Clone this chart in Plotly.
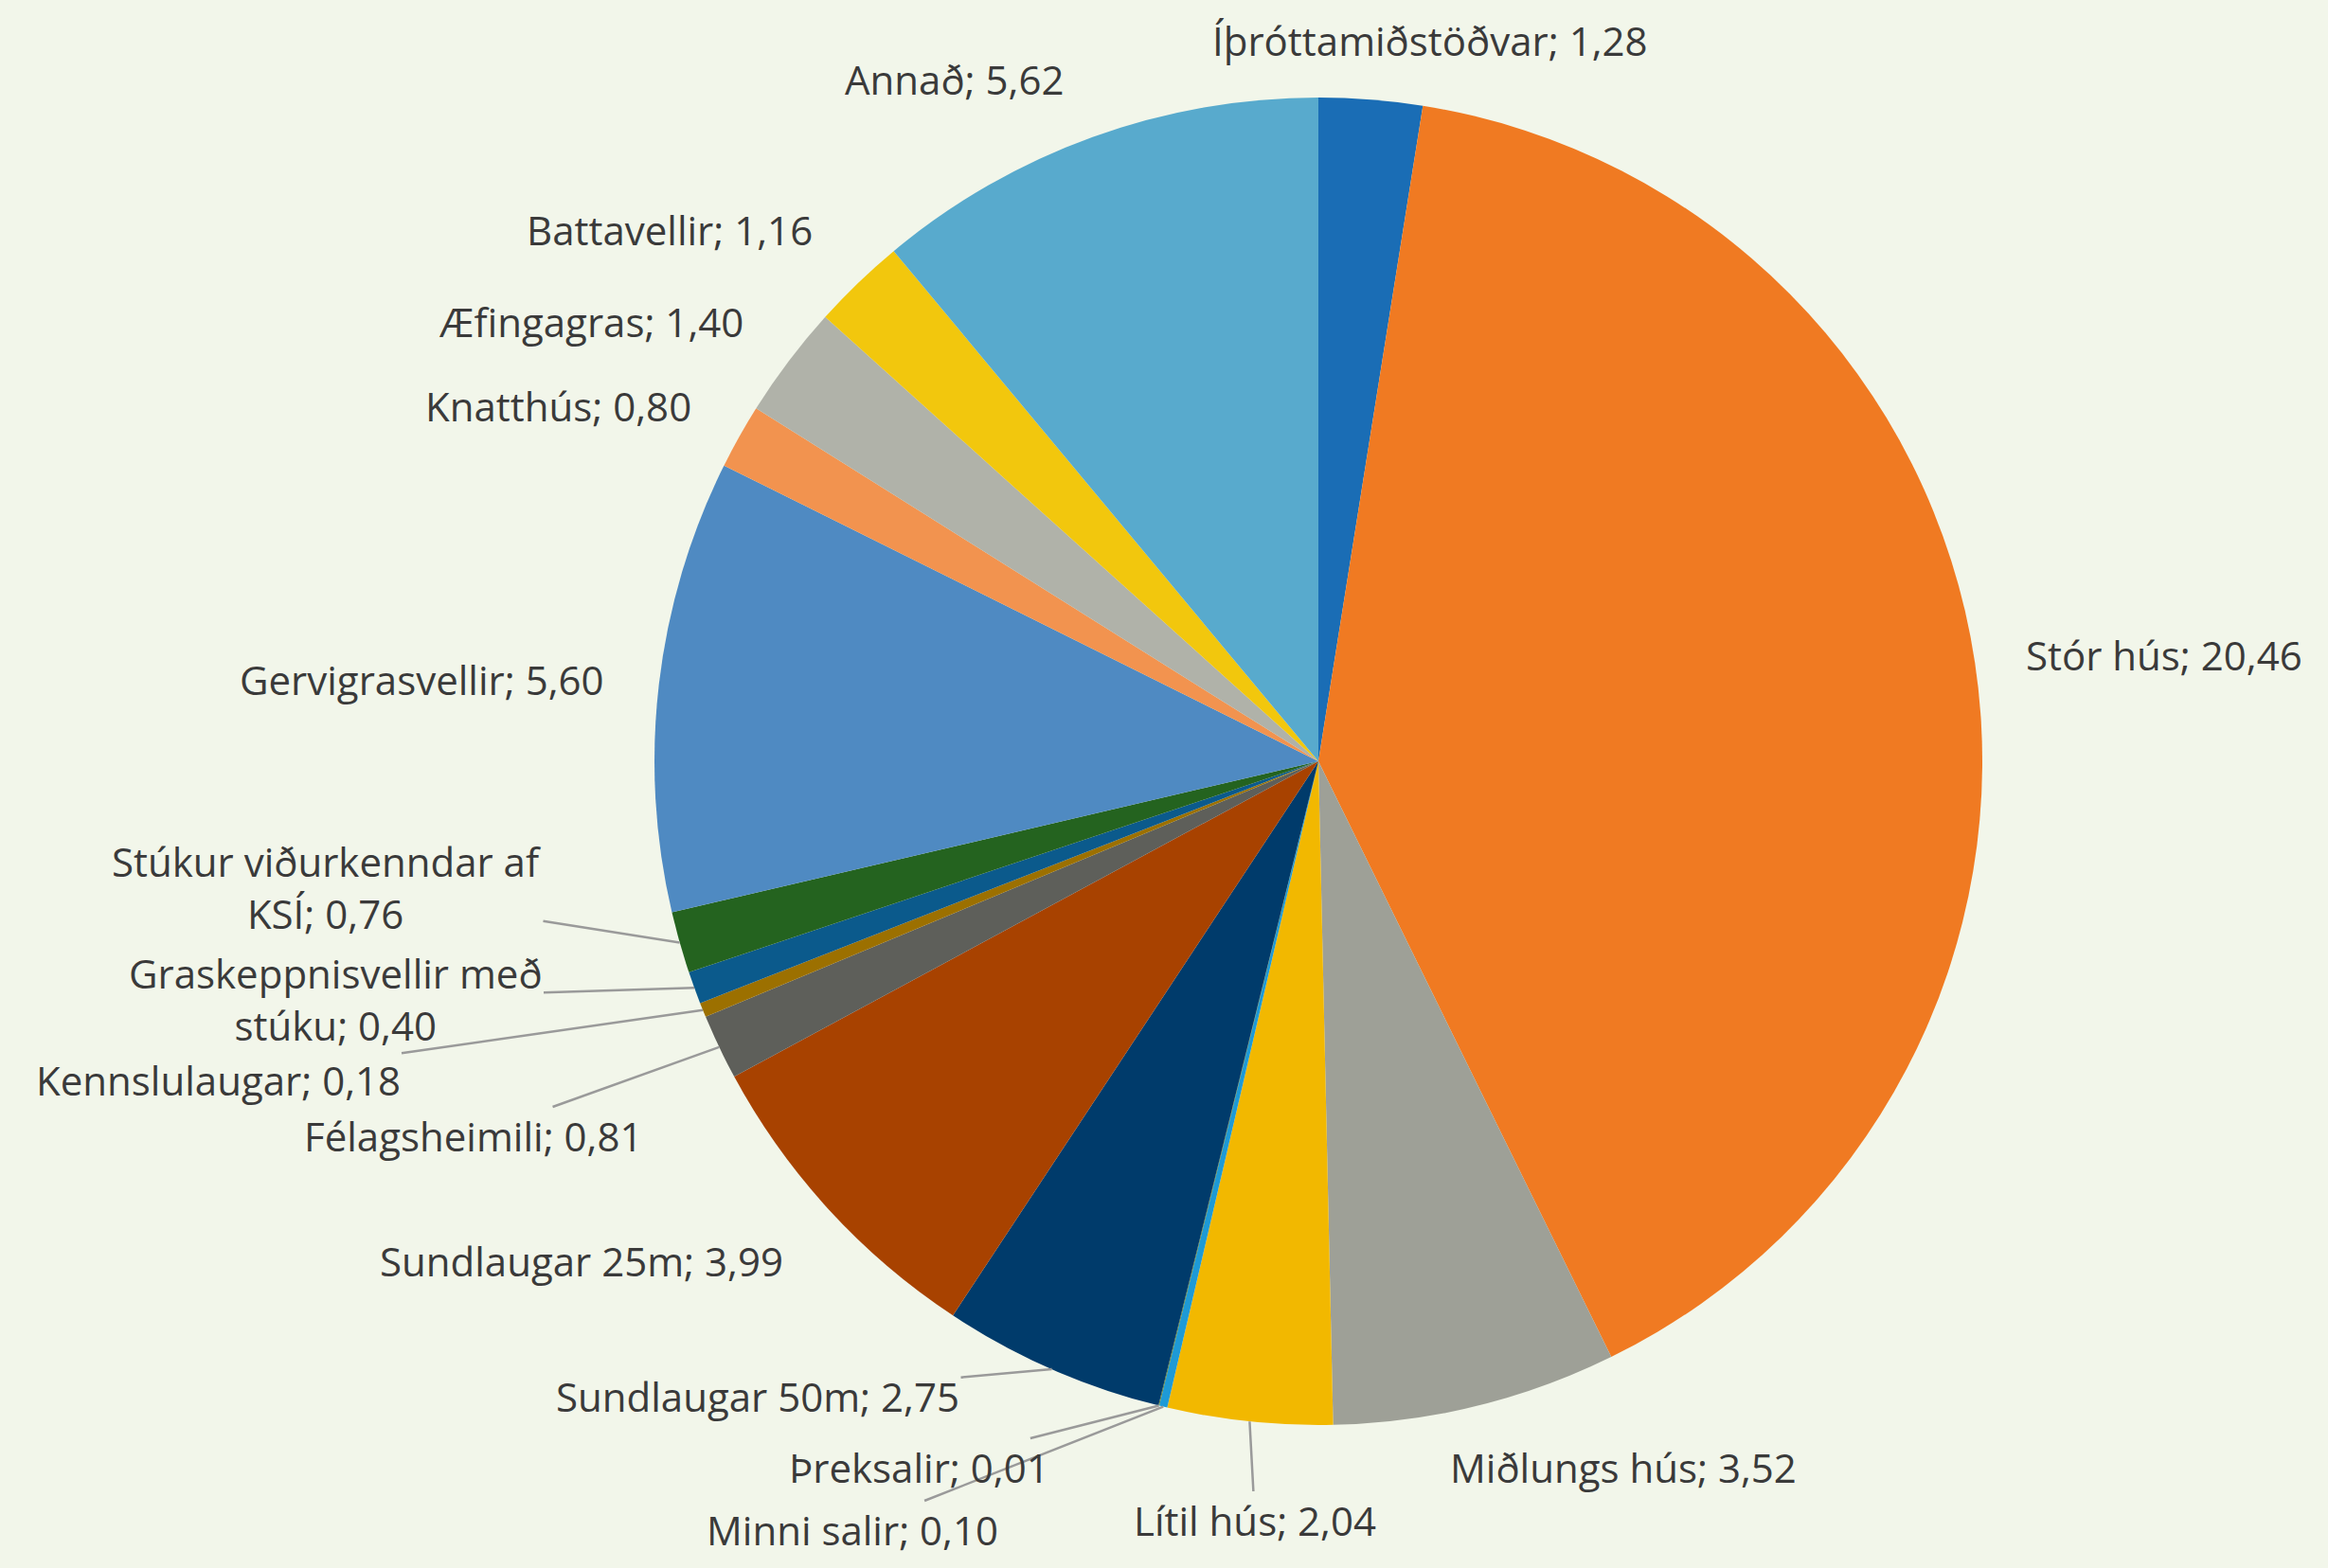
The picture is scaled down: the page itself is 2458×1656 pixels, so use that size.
import math
import plotly.graph_objects as go

# ---------------- data ----------------
CATEGORIES = [
    "Íþróttamiðstöðvar", "Stór hús", "Miðlungs hús", "Lítil hús", "Minni salir",
    "Þreksalir", "Sundlaugar 50m", "Sundlaugar 25m", "Félagsheimili", "Kennslulaugar",
    "Graskeppnisvellir með stúku", "Stúkur viðurkenndar af KSÍ", "Gervigrasvellir",
    "Knatthús", "Æfingagras", "Battavellir", "Annað",
]
VALUES = [1.28, 20.46, 3.52, 2.04, 0.10, 0.01, 2.75, 3.99, 0.81, 0.18, 0.40, 0.76,
          5.60, 0.80, 1.40, 1.16, 5.62]
# label text as displayed (line breaks where the original wraps)
DISPLAY_NAMES = [
    "Íþróttamiðstöðvar", "Stór hús", "Miðlungs hús", "Lítil hús", "Minni salir",
    "Þreksalir", "Sundlaugar 50m", "Sundlaugar 25m", "Félagsheimili", "Kennslulaugar",
    "Graskeppnisvellir með<br>stúku", "Stúkur viðurkenndar af<br>KSÍ", "Gervigrasvellir",
    "Knatthús", "Æfingagras", "Battavellir", "Annað",
]

# ---------------- styles / layout ----------------
COLORS = ["#1A6DB5", "#F07A22", "#9EA097", "#F2B800", "#1E9AD6", "#5B7F2E",
          "#003B6B", "#A84200", "#5E5F5A", "#9C7000", "#0B5A8C", "#24631F",
          "#4F8AC2", "#F2934F", "#B0B2A9", "#F2C70D", "#58AACD"]
BG = "#F2F6EA"
TEXT_COLOR = "#3A3A3A"
W, H = 2458, 1656
CX, CY, R = 1392, 804, 701          # pie centre / radius in pixels
# label centres in pixels
LABEL_POS = [(1510, 42), (2285, 691), (1714, 1549), (1325, 1605), (900, 1615),
             (970, 1549), (800, 1474), (614, 1331), (500, 1199), (230, 1140),
             (354, 1055), (345, 937), (445, 718), (589, 428), (624, 339),
             (707, 243), (1007, 83)]
LEADER = [False, False, False, True, True, True, True, False, True, True, True, True,
          False, False, False, False, False]

fig = go.Figure()
fig.add_trace(go.Pie(
    labels=CATEGORIES, values=VALUES, sort=False, direction="clockwise", rotation=0,
    marker=dict(colors=COLORS, line=dict(width=0)), textinfo="none",
    hoverinfo="label+value", showlegend=False,
    domain=dict(x=[(CX - R) / W, (CX + R) / W], y=[1 - (CY + R) / H, 1 - (CY - R) / H]),
))

total = sum(VALUES)
cum = 0.0
annotations = []
for name, v, (lx, ly), lead in zip(DISPLAY_NAMES, VALUES, LABEL_POS, LEADER):
    mid = (cum + v / 2) / total * 2 * math.pi
    cum += v
    px = CX + R * math.sin(mid)
    py = CY - R * math.cos(mid)
    text = f"{name}; {v:.2f}".replace(".", ",")
    common = dict(text=text, xref="paper", yref="paper", align="center",
                  font=dict(family="Open Sans", size=42, color=TEXT_COLOR))
    if lead:
        annotations.append(dict(x=px / W, y=1 - py / H, showarrow=True, arrowhead=0,
                                arrowwidth=2.5, arrowcolor="#9A9A9A",
                                ax=lx - px, ay=ly - py, **common))
    else:
        annotations.append(dict(x=lx / W, y=1 - ly / H, showarrow=False,
                                xanchor="center", yanchor="middle", **common))

fig.update_layout(
    paper_bgcolor=BG, plot_bgcolor=BG,
    margin=dict(l=0, r=0, t=0, b=0),
    annotations=annotations,
)
fig.write_html(
    "out.html",
    config={"displayModeBar": False},
    post_script=(
        "document.body.style.margin='0';"
        "document.body.style.background='" + BG + "';"
        "var gd=document.getElementById('{plot_id}');"
        "gd.style.width='100vw';gd.style.height='100vh';"
        "Plotly.Plots.resize(gd);"
    ),
)
